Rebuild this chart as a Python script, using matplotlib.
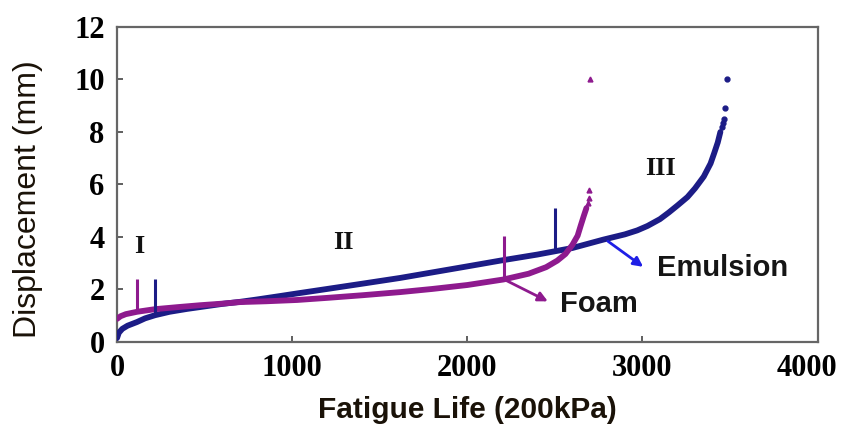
import matplotlib
matplotlib.use("Agg")
import matplotlib.pyplot as plt
from matplotlib.transforms import ScaledTranslation

# Emulsion displacement curve
emul_life = [0, 10, 30, 60, 114, 160, 217, 300, 400, 474, 600, 703, 800, 931,
             1029, 1200, 1400, 1617, 1800, 2000, 2189, 2400, 2600, 2777, 2900,
             2970, 3029, 3100, 3150, 3200, 3257, 3300, 3350, 3389, 3410, 3430, 3445]
emul_disp = [0.15, 0.35, 0.5, 0.62, 0.76, 0.9, 1.02, 1.15, 1.26, 1.33, 1.45, 1.53,
             1.62, 1.75, 1.85, 2.02, 2.22, 2.44, 2.65, 2.88, 3.1, 3.33, 3.58, 3.9,
             4.1, 4.25, 4.42, 4.68, 4.93, 5.2, 5.52, 5.85, 6.3, 6.8, 7.2, 7.6, 8.0]
emul_tail_life = [3455, 3462, 3468, 3472, 3480]
emul_tail_disp = [8.2, 8.35, 8.5, 8.9, 10.0]

# Foam displacement curve
foam_life = [0, 20, 50, 114, 217, 350, 474, 600, 703, 850, 1029, 1200, 1400,
             1617, 1800, 2000, 2206, 2350, 2450, 2514, 2560, 2600, 2630, 2646,
             2665, 2680]
foam_disp = [0.88, 0.98, 1.06, 1.15, 1.25, 1.33, 1.4, 1.46, 1.52, 1.55, 1.6, 1.68,
             1.78, 1.9, 2.02, 2.17, 2.38, 2.6, 2.85, 3.1, 3.35, 3.7, 4.05, 4.4,
             4.8, 5.1]
foam_tail_life = [2688, 2693, 2697, 2703]
foam_tail_disp = [5.3, 5.5, 5.8, 10.0]

# stage boundary markers: (life, bottom, top)
emul_marks = [(215, 1.02, 2.4), (2503, 3.45, 5.1)]
foam_marks = [(114, 1.15, 2.4), (2211, 2.38, 4.05)]

stage_labels = ["I", "II", "III"]
stage_pos = [(128, 3.65), (1291, 3.8), (3103, 6.6)]

navy = "#1c1c86"
purple = "#8e1a8e"

fig = plt.figure(figsize=(8.42, 4.3), dpi=100)
ax = fig.add_axes([0.139, 0.2047, 0.832, 0.7326])

ax.plot(emul_life, emul_disp, color=navy, lw=4.2, solid_capstyle="round", zorder=3)
ax.plot(emul_tail_life, emul_tail_disp, "o", color=navy, ms=3.5, zorder=3)
ax.plot(foam_life, foam_disp, color=purple, lw=4.2, solid_capstyle="round", zorder=4)
ax.plot(foam_tail_life, foam_tail_disp, "^", color=purple, ms=3.5, zorder=4)

for x, y0, y1 in emul_marks:
    ax.vlines(x, y0, y1, color=navy, lw=2.2, zorder=5)
for x, y0, y1 in foam_marks:
    ax.vlines(x, y0, y1, color=purple, lw=2.2, zorder=5)

for lab, (x, y) in zip(stage_labels, stage_pos):
    ax.text(x, y, lab, family="Liberation Serif", fontsize=19, fontweight="bold",
            ha="center", va="center", color="#111111")

ax.annotate("", xy=(2474, 1.5), xytext=(2211, 2.38),
            arrowprops=dict(arrowstyle="-|>", color=purple, lw=2, mutation_scale=14))
ax.text(2531, 1.45, "Foam", family="Liberation Sans", fontsize=21, fontweight="bold",
        ha="left", va="center", color="#151515")
ax.annotate("", xy=(3017, 2.8), xytext=(2790, 3.9),
            arrowprops=dict(arrowstyle="-|>", color="#1f1fe6", lw=2, mutation_scale=14))
ax.text(3085, 2.8, "Emulsion", family="Liberation Sans", fontsize=21, fontweight="bold",
        ha="left", va="center", color="#151515")

ax.set_xlim(0, 4000)
ax.set_ylim(0, 12)
ax.set_xticks([0, 1000, 2000, 3000, 4000])
ax.set_yticks([0, 2, 4, 6, 8, 10, 12])
ax.tick_params(direction="in", length=4, width=1.2, color="#444444", pad=9)
for lab in ax.get_xticklabels() + ax.get_yticklabels():
    lab.set_family("Liberation Serif")
    lab.set_fontweight("bold")
    lab.set_fontsize(22)
# last x tick label sits a little to the left of its tick
last = ax.get_xticklabels()[-1]
last.set_transform(last.get_transform() + ScaledTranslation(-0.11, 0, fig.dpi_scale_trans))
for sp in ax.spines.values():
    sp.set_color("#666666")
    sp.set_linewidth(1.6)

ax.set_xlabel("Fatigue Life (200kPa)", family="Liberation Sans", fontsize=21.5,
              fontweight="bold", color="#1a1208")
ax.xaxis.set_label_coords(0.50, -0.17)
ax.set_ylabel("Displacement (mm)", family="Liberation Sans", fontsize=23,
              color="#1a1208")
ax.yaxis.set_label_coords(-0.105, 0.455)

fig.savefig("out.png", dpi=100)
